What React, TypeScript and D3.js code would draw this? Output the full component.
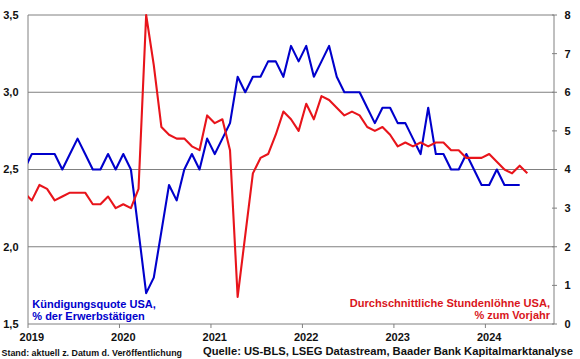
import React from 'react';
import * as d3 from 'd3';

const W = 580;
const H = 359;

const yearLabels = ['2019', '2020', '2021', '2022', '2023', '2024'];
const leftTicks = [1.5, 2.0, 2.5, 3.0, 3.5];
const rightTicks = [0, 1, 2, 3, 4, 5, 6, 7, 8];

// Monthly values, first entry = Dec 2018
const quitRate = [
  2.5,
  2.6, 2.6, 2.6, 2.6, 2.5, 2.6, 2.7, 2.6, 2.5, 2.5, 2.6, 2.5,
  2.6, 2.5, 2.1, 1.7, 1.8, 2.1, 2.4, 2.3, 2.5, 2.6, 2.5, 2.7,
  2.6, 2.7, 2.8, 3.1, 3.0, 3.1, 3.1, 3.2, 3.2, 3.1, 3.3, 3.2,
  3.3, 3.1, 3.2, 3.3, 3.1, 3.0, 3.0, 3.0, 2.9, 2.8, 2.9, 2.9,
  2.8, 2.8, 2.7, 2.6, 2.9, 2.6, 2.6, 2.5, 2.5, 2.6, 2.5, 2.4,
  2.4, 2.5, 2.4, 2.4, 2.4,
];

const wageGrowth = [
  3.4,
  3.2, 3.6, 3.5, 3.2, 3.3, 3.4, 3.4, 3.4, 3.1, 3.1, 3.3, 3.0,
  3.1, 3.0, 3.5, 8.0, 6.7, 5.1, 4.9, 4.8, 4.8, 4.6, 4.5, 5.4,
  5.2, 5.3, 4.5, 0.7, 2.3, 3.9, 4.3, 4.4, 4.9, 5.5, 5.3, 5.0,
  5.7, 5.3, 5.9, 5.8, 5.6, 5.4, 5.5, 5.4, 5.1, 5.0, 5.1, 4.9,
  4.6, 4.7, 4.6, 4.7, 4.6, 4.7, 4.7, 4.5, 4.5, 4.3, 4.3, 4.3,
  4.4, 4.2, 4.0, 3.9, 4.1, 3.9,
];

const FIRST_MONTH = -1; // Dec 2018 relative to Jan 2019
const TOTAL_MONTHS = 69; // Jan 2019 .. Sep 2024

const BLUE = '#0000CC';
const RED = '#E8141B';
const RED_TEXT = '#D9161C';
const GRID = '#808080';
const FONT = '"Liberation Sans", Arial, sans-serif';

export default function App() {
  const m = { l: 28, r: 554, t: 15, b: 324 };
  const x = d3.scaleLinear().domain([0, TOTAL_MONTHS]).range([m.l, m.r]);
  const yL = d3.scaleLinear().domain([1.5, 3.5]).range([m.b, m.t]);
  const yR = d3.scaleLinear().domain([0, 8]).range([m.b, m.t]);

  const lineL = d3
    .line<number>()
    .x((_, i) => x(FIRST_MONTH + i + 0.5))
    .y((d) => yL(d));
  const lineR = d3
    .line<number>()
    .x((_, i) => x(FIRST_MONTH + i + 0.5))
    .y((d) => yR(d));

  return (
    <svg
      width={W}
      height={H}
      style={{ position: 'absolute', left: 0, top: 0, background: '#fff' }}
      fontFamily={FONT}
    >
      <defs>
        <clipPath id="plot">
          <rect x={m.l} y={m.t - 5} width={m.r - m.l} height={m.b - m.t + 10} />
        </clipPath>
      </defs>
      <rect x={0} y={0} width={W} height={H} fill="#fff" />

      {/* gridlines */}
      {leftTicks.filter((t) => t > 1.5).map((t) => (
        <line key={t} x1={m.l} x2={m.r} y1={yL(t)} y2={yL(t)} stroke={GRID} strokeWidth={1} />
      ))}

      {/* axes */}
      <line x1={m.l} x2={m.l} y1={m.t} y2={m.b} stroke={GRID} strokeWidth={1} />
      <line x1={m.r} x2={m.r} y1={m.t} y2={m.b} stroke={GRID} strokeWidth={1} />
      <line x1={m.l} x2={m.r} y1={m.b} y2={m.b} stroke={GRID} strokeWidth={1} />

      {/* right ticks */}
      {rightTicks.map((t) => (
        <line key={t} x1={m.r - 2} x2={m.r + 3} y1={yR(t)} y2={yR(t)} stroke={GRID} strokeWidth={1} />
      ))}

      {/* x ticks */}
      {yearLabels.map((yl, i) => (
        <line key={yl} x1={x(i * 12)} x2={x(i * 12)} y1={m.b} y2={m.b + 4} stroke={GRID} strokeWidth={1} />
      ))}

      {/* left labels */}
      {leftTicks.map((t) => (
        <text
          key={t}
          x={18.5}
          y={yL(t)}
          dy="0.36em"
          textAnchor="end"
          fontSize={11}
          fontWeight="bold"
          fill="#111"
        >
          {t.toFixed(1).replace('.', ',')}
        </text>
      ))}

      {/* right labels */}
      {rightTicks.map((t) => (
        <text key={t} x={564.5} y={yR(t)} dy="0.36em" fontSize={11} fontWeight="bold" fill="#111">
          {t}
        </text>
      ))}

      {/* x labels */}
      {yearLabels.map((yl, i) => (
        <text key={yl} x={x(i * 12 + 0.5)} y={340.5} textAnchor="middle" fontSize={11} fontWeight="bold" fill="#111">
          {yl}
        </text>
      ))}

      {/* series */}
      <g clipPath="url(#plot)">
        <path d={lineL(quitRate) || ''} fill="none" stroke={BLUE} strokeWidth={2.1} strokeLinejoin="round" />
        <path d={lineR(wageGrowth) || ''} fill="none" stroke={RED} strokeWidth={2.1} strokeLinejoin="round" />
      </g>

      {/* legends */}
      <text x={32.3} y={307.7} fontSize={11} fontWeight="bold" fill={BLUE}>
        Kündigungsquote USA,
      </text>
      <text x={32.3} y={319.5} fontSize={11} fontWeight="bold" fill={BLUE}>
        % der Erwerbstätigen
      </text>
      <text x={550} y={306.7} textAnchor="end" fontSize={11.1} fontWeight="bold" fill={RED_TEXT}>
        Durchschnittliche Stundenlöhne USA,
      </text>
      <text x={550} y={319} textAnchor="end" fontSize={11} fontWeight="bold" fill={RED_TEXT}>
        % zum Vorjahr
      </text>

      {/* footer */}
      <text x={1.5} y={355.5} fontSize={8.9} fontWeight="bold" fill="#111">
        Stand: aktuell z. Datum d. Veröffentlichung
      </text>
      <text x={203} y={355} fontSize={11.2} fontWeight="bold" fill="#111">
        Quelle: US-BLS, LSEG Datastream, Baader Bank Kapitalmarktanalyse
      </text>
    </svg>
  );
}
